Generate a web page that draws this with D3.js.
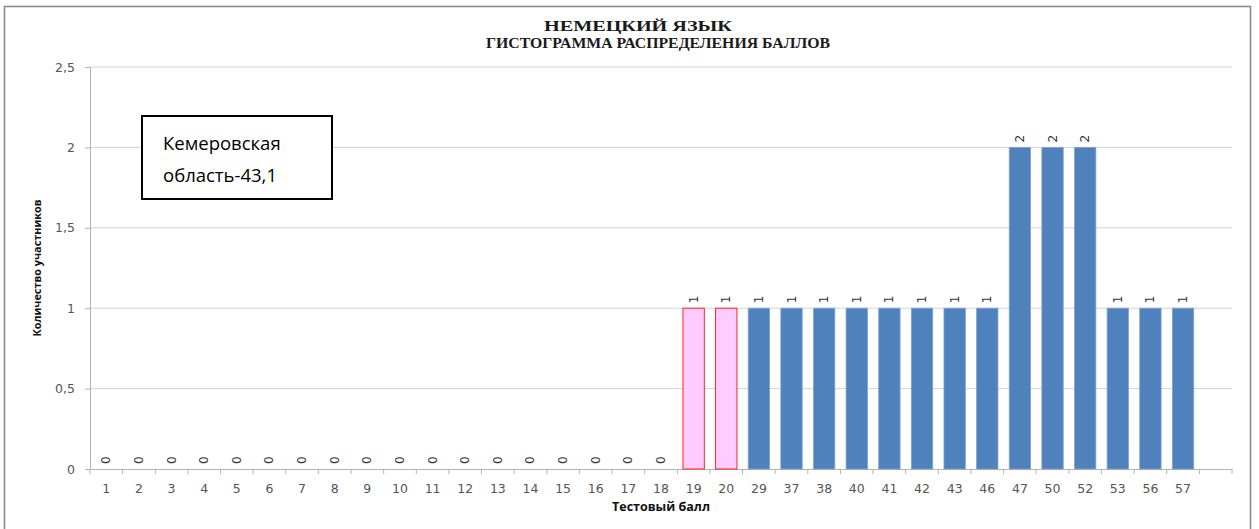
<!DOCTYPE html>
<html>
<head>
<meta charset="utf-8">
<script src="https://cdnjs.cloudflare.com/ajax/libs/d3/7.8.5/d3.min.js"></script>
<style>
  html,body{margin:0;padding:0;background:#fff;}
  svg{display:block;}
</style>
</head>
<body>
<svg id="chart" width="1259" height="529"></svg>
<script>
/* ── Данные ── */
var scores=['1','2','3','4','5','6','7','8','9','10','11','12','13','14','15','16','17','18','19','20',
            '29','37','38','40','41','42','43','46','47','50','52','53','56','57'];
var counts=[0,0,0,0,0,0,0,0,0,0,0,0,0,0,0,0,0,0,1,1,
            1,1,1,1,1,1,1,1,2,2,2,1,1,1];
var belowMin=['19','20'];          // баллы ниже порога (розовые)
var yTicks=[0,0.5,1,1.5,2,2.5];
var titleLines=['НЕМЕЦКИЙ ЯЗЫК','ГИСТОГРАММА РАСПРЕДЕЛЕНИЯ БАЛЛОВ'];
var noteLines=['Кемеровская','область-43,1'];

var svg=d3.select('#chart');
var W=1259, H=529;
var ML=90, MR=27, MT=67, MB=60;
var pw=W-ML-MR, ph=H-MT-MB;

/* рамка диаграммы */
svg.append('rect').attr('x',4.5).attr('y',6.5).attr('width',1246).attr('height',530)
  .attr('fill','#fff').attr('stroke','#8c8c8c').attr('stroke-width',1.6);

/* заголовок (ширина строк как в оригинале) */
var titleW=[188,344], titleX=[638,658];
titleLines.forEach(function(t,i){
  svg.append('text').attr('x',titleX[i]).attr('y',31+i*17).attr('text-anchor','middle')
    .attr('font-family','Liberation Serif,Times New Roman,serif').attr('font-weight','bold')
    .attr('font-size','15').attr('fill','#1a1a1a')
    .attr('textLength',titleW[i]).attr('lengthAdjust','spacingAndGlyphs').text(t);
});

var g=svg.append('g').attr('transform','translate('+ML+','+MT+')');

// пустой слот в конце, как в Excel
var slots=scores.concat(['_']);
var x=d3.scaleBand().domain(slots).range([0,pw]).paddingInner(0.345).paddingOuter(0.1725);
var xs=d3.scaleBand().domain(slots).range([0,pw]);
var y=d3.scaleLinear().domain([0,2.5]).range([ph,0]);

/* сетка */
g.selectAll('.grid').data(yTicks.filter(function(d){return d>0;})).enter().append('line')
  .attr('x1',0).attr('x2',pw).attr('y1',function(d){return y(d);}).attr('y2',function(d){return y(d);})
  .attr('stroke','#d4d4d4').attr('stroke-width',1);

/* ось Y */
var yAxis=g.append('g').call(d3.axisLeft(y).tickValues(yTicks).tickSize(5).tickPadding(10)
  .tickFormat(function(d){return String(d).replace('.',',');}));
yAxis.select('.domain').attr('stroke','#b3b3b3');
yAxis.selectAll('.tick line').attr('stroke','#b3b3b3');
yAxis.selectAll('text').attr('font-family','DejaVu Sans,sans-serif').attr('font-size','12.5').attr('fill','#555');

/* ось X */
var xAxis=g.append('g').attr('transform','translate(0,'+ph+')')
  .call(d3.axisBottom(xs).tickSize(0).tickPadding(15).tickFormat(function(d){return d==='_'?'':d;}));
xAxis.select('.domain').attr('stroke','#b3b3b3');
xAxis.selectAll('text').attr('font-family','DejaVu Sans,sans-serif').attr('font-size','12.5').attr('fill','#555');
// засечки между категориями
var edges=slots.map(function(d){return xs(d);}).concat([pw]);
xAxis.selectAll('.sep').data(edges).enter().append('line')
  .attr('x1',function(d){return d;}).attr('x2',function(d){return d;})
  .attr('y1',0).attr('y2',5).attr('stroke','#b3b3b3');

/* столбцы */
var data=scores.map(function(s,i){return {s:s,v:counts[i],low:belowMin.indexOf(s)>=0};});
g.selectAll('.bar').data(data.filter(function(d){return d.v>0;})).enter().append('rect')
  .attr('x',function(d){return x(d.s);}).attr('width',x.bandwidth())
  .attr('y',function(d){return y(d.v);}).attr('height',function(d){return ph-y(d.v);})
  .attr('fill',function(d){return d.low?'#ffccff':'#4f81bd';})
  .attr('stroke',function(d){return d.low?'#ff2020':'#7ea3d2';})
  .attr('stroke-width',function(d){return d.low?1:0.8;});

/* подписи значений, повёрнутые */
g.selectAll('.lbl').data(data).enter().append('text')
  .attr('transform',function(d){
    return 'translate('+(x(d.s)+x.bandwidth()/2+4)+','+(y(d.v)-5)+') rotate(-90)';
  })
  .attr('font-family','DejaVu Sans,sans-serif').attr('font-size','12').attr('fill','#333')
  .text(function(d){return d.v;});

/* подписи осей */
svg.append('text').attr('x',ML+pw/2).attr('y',511).attr('text-anchor','middle')
  .attr('font-family','Open Sans,sans-serif').attr('font-weight','bold').attr('font-size','12.5')
  .attr('fill','#111').text('Тестовый балл');
svg.append('text').attr('transform','translate(41,268) rotate(-90)').attr('text-anchor','middle')
  .attr('font-family','Open Sans,sans-serif').attr('font-weight','bold').attr('font-size','11')
  .attr('fill','#111').attr('textLength',137).attr('lengthAdjust','spacingAndGlyphs')
  .text('Количество участников');

/* поле с подписью региона */
svg.append('rect').attr('x',142).attr('y',116).attr('width',190).attr('height',83)
  .attr('fill','#fff').attr('stroke','#000').attr('stroke-width',2);
noteLines.forEach(function(t,i){
  svg.append('text').attr('x',163).attr('y',150+i*32)
    .attr('font-family','Open Sans,sans-serif').attr('font-size','18.5').attr('fill','#000').text(t);
});
</script>
</body>
</html>
